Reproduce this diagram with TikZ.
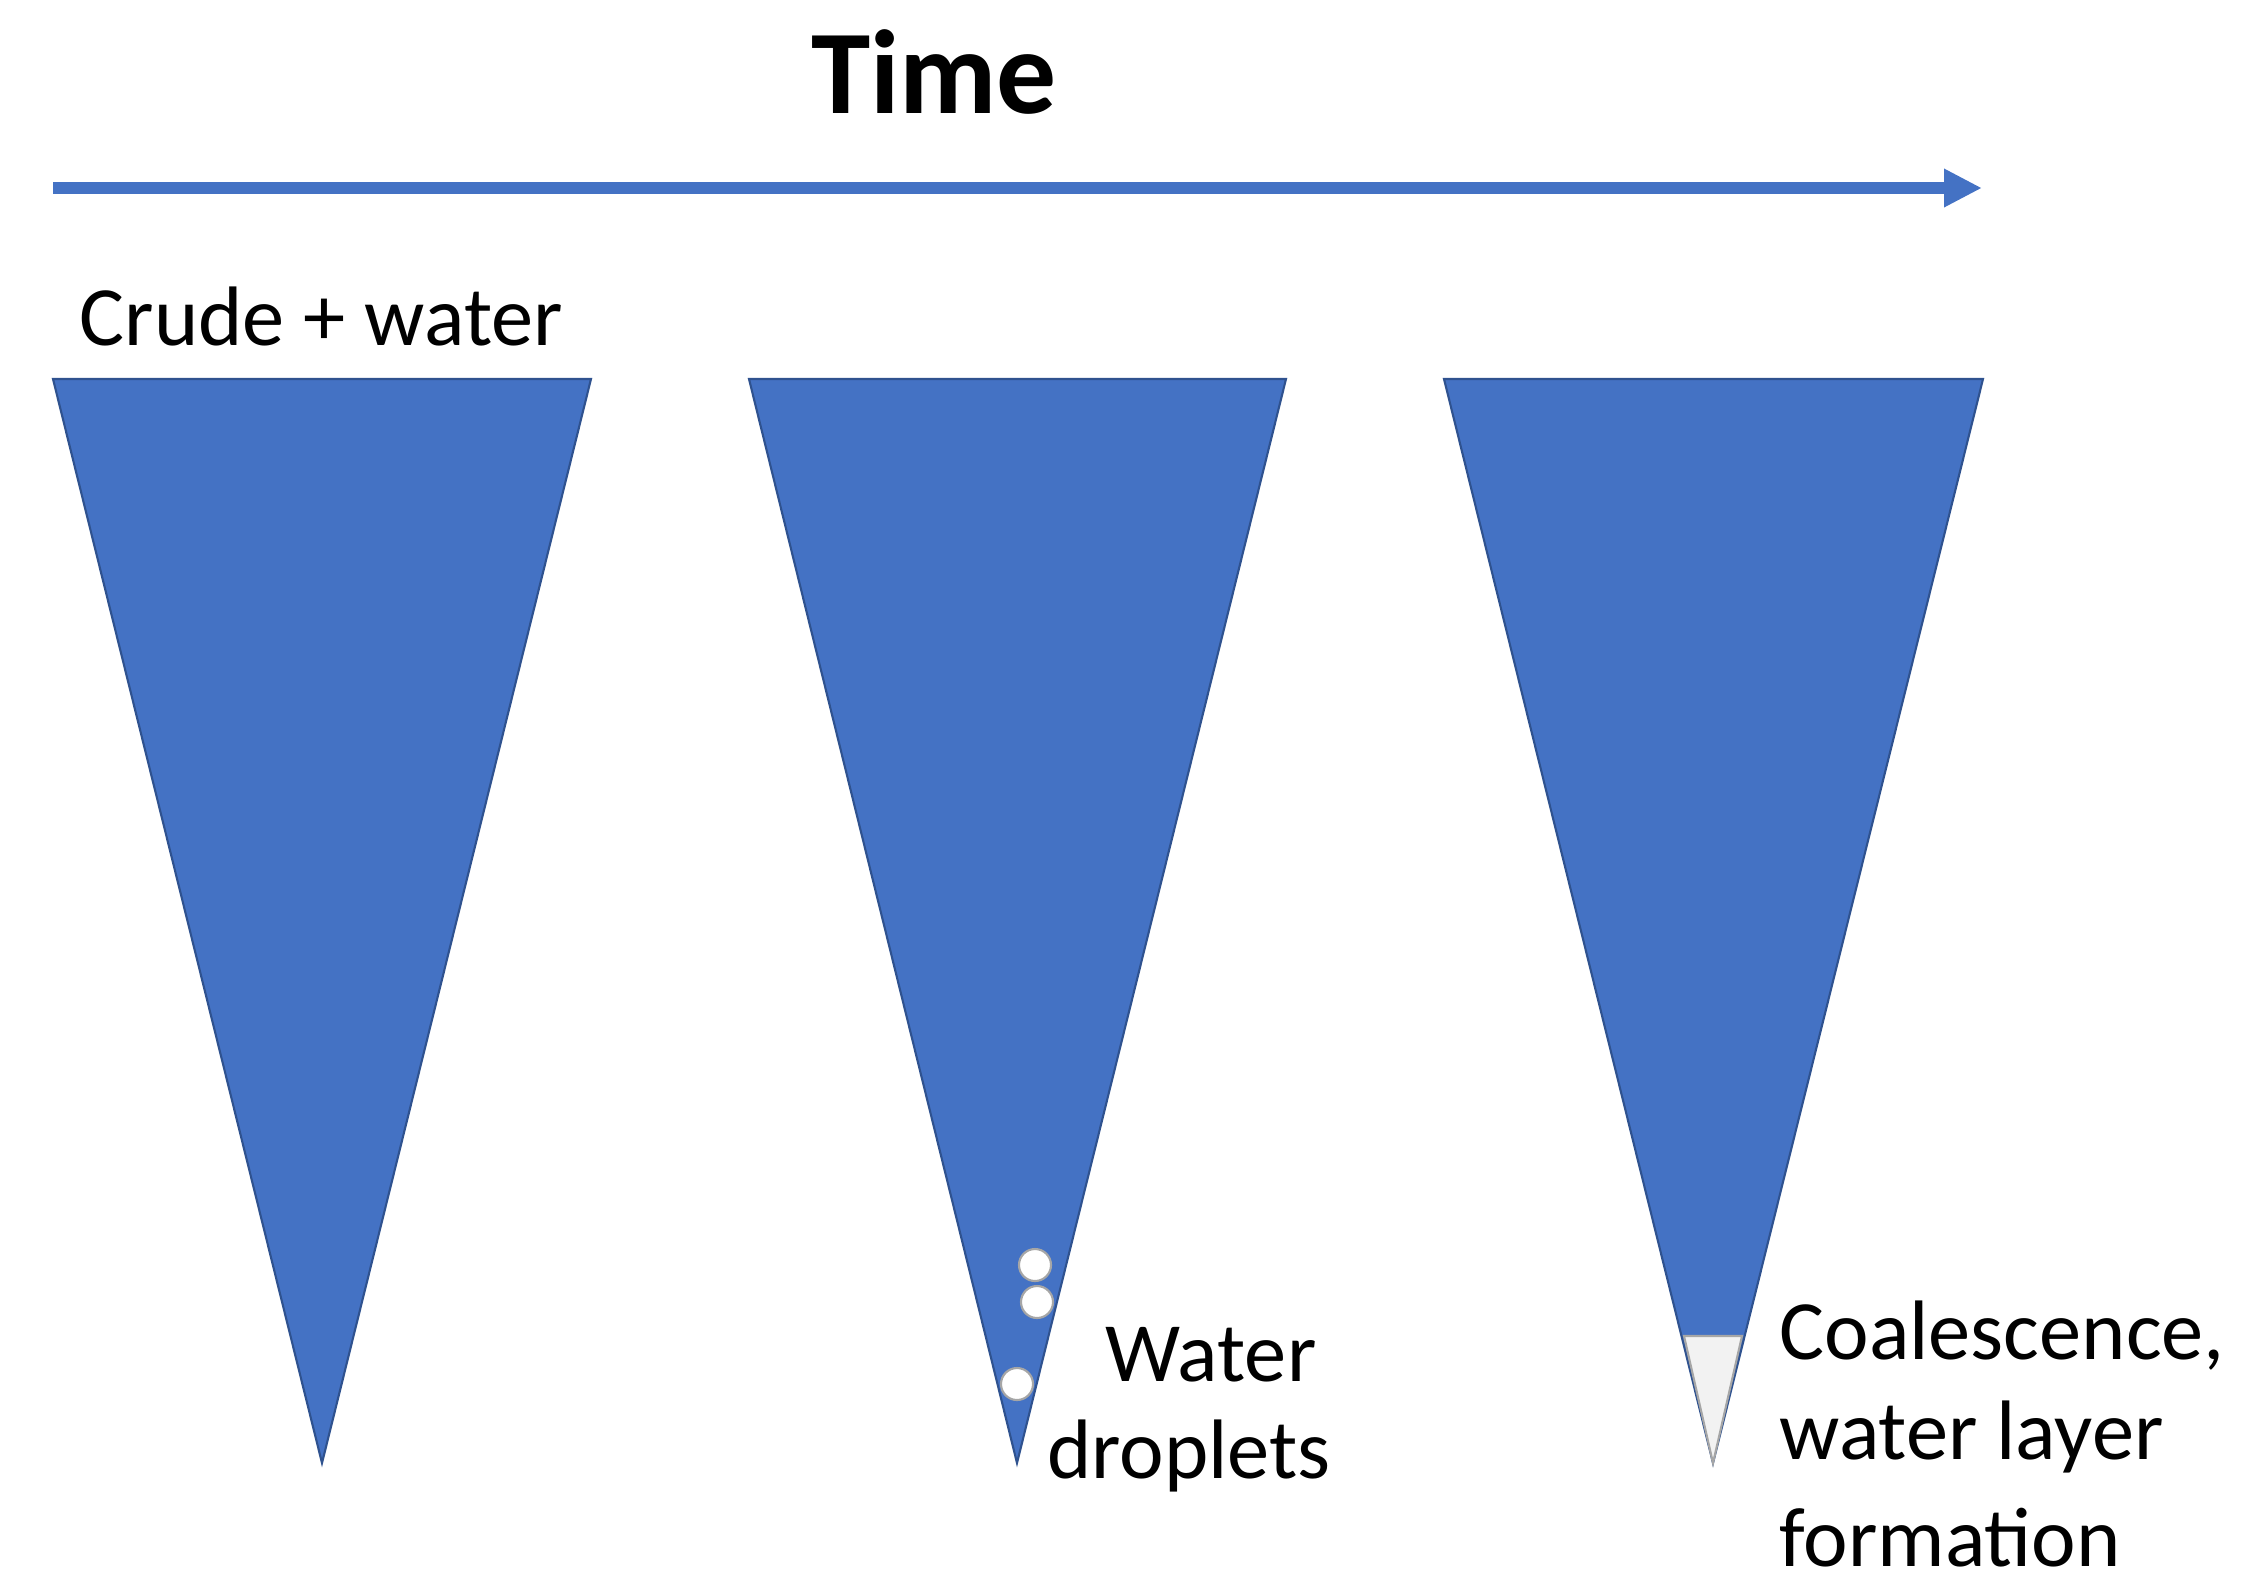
\documentclass[tikz,border=0pt]{standalone}
\usepackage{fontspec}
\setmainfont{Carlito}
\usetikzlibrary{arrows.meta}
\definecolor{blu}{HTML}{4472C4}
\definecolor{bluedge}{HTML}{2F528F}
\begin{document}
\begin{tikzpicture}[x=0.01cm,y=-0.01cm,
  cone/.style={fill=blu,draw=bluedge,line width=0.6pt},
  drop/.style={circle,fill=white,draw=gray!70,line width=0.6pt,minimum size=32\pgflinewidth*0+0.32cm,inner sep=0pt},
  lbl/.style={font=\fontsize{24}{30}\selectfont,inner sep=0pt}]
\useasboundingbox (0,0) rectangle (2242,1593);
\node[font=\fontsize{34}{40}\selectfont\bfseries,inner sep=0pt] (time) at (934,72) {Time};
\coordinate (a1) at (53,188);
\coordinate (a2) at (1982,188);
\draw[blu,line width=3.2pt,-{Triangle[length=0.38cm,width=0.36cm]}] (a1) -- (a2);
\node[lbl,anchor=west] (crude) at (79,316) {Crude + water};
\draw[cone] (53,379) -- (591,379) -- (322,1463) -- cycle;
\draw[cone] (749,379) -- (1286,379) -- (1017,1463) -- cycle;
\draw[cone] (1444,379) -- (1983,379) -- (1713,1463) -- cycle;
\draw[fill=black!5,draw=gray!70,line width=0.6pt] (1684,1336) -- (1742,1336) -- (1713,1463) -- cycle;
\node[drop] (d1) at (1035,1265) {};
\node[drop] (d2) at (1037,1302) {};
\node[drop] (d3) at (1017,1384) {};
\node[lbl] (w1) at (1211,1355) {Water};
\node[lbl] (w2) at (1189,1456) {droplets};
\node[lbl,anchor=west] (c1) at (1779,1336) {Coalescence,};
\node[lbl,anchor=west] (c2) at (1779,1437) {water layer};
\node[lbl,anchor=west] (c3) at (1779,1538) {formation};
\end{tikzpicture}
\end{document}
